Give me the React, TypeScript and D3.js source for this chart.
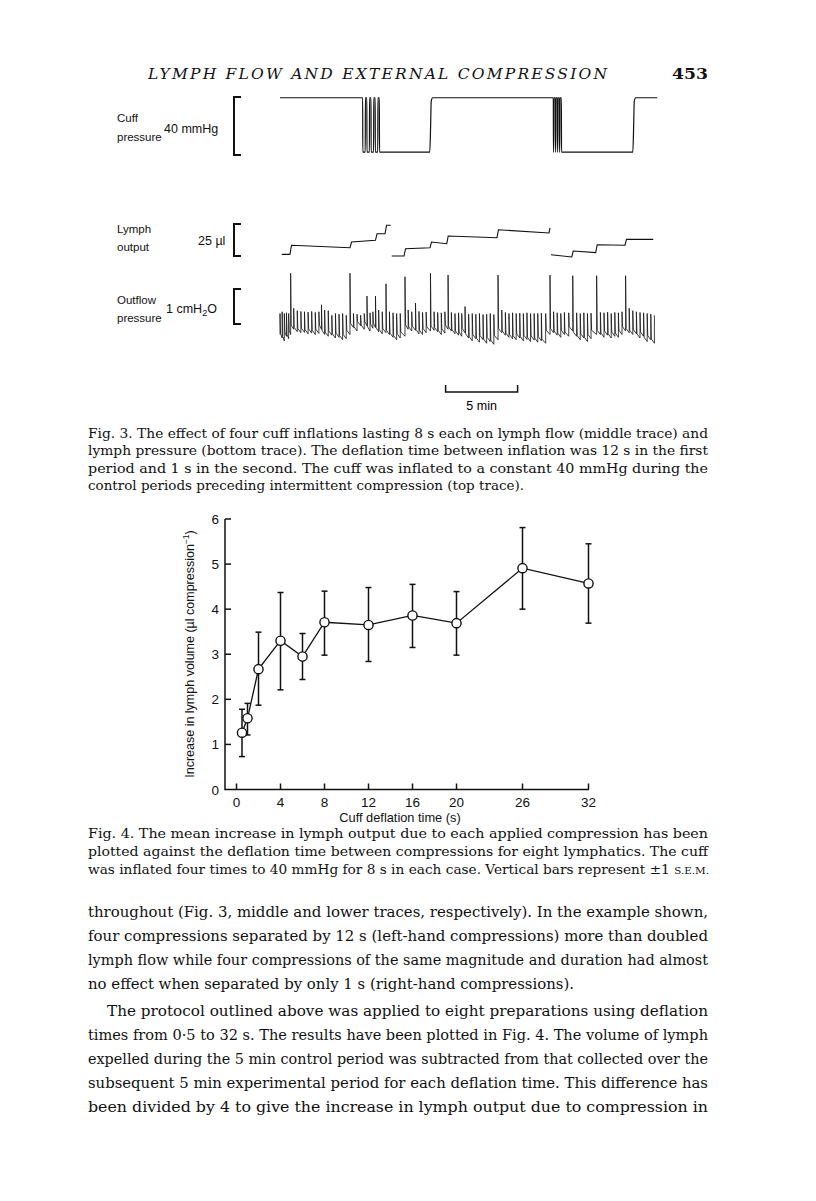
import React from 'react';
import * as d3 from 'd3';

// ---------- Fig. 4 data ----------
const deflationTime = [0.5, 1, 2, 4, 6, 8, 12, 16, 20, 26, 32];
const meanIncrease = [1.26, 1.58, 2.67, 3.3, 2.95, 3.71, 3.65, 3.86, 3.69, 4.91, 4.57];
const semUpper = [1.78, 1.91, 3.49, 4.37, 3.46, 4.4, 4.48, 4.55, 4.39, 5.81, 5.45];
const semLower = [0.73, 1.21, 1.87, 2.21, 2.44, 2.98, 2.84, 3.15, 2.98, 4.0, 3.69];
const xTicks = [0, 4, 8, 12, 16, 20, 26, 32];
const yTicks = [0, 1, 2, 3, 4, 5, 6];

// ---------- Fig. 3 data (time in min) ----------
const cuffTime = [0, 5.74, 5.75, 5.92, 5.93, 6.03, 6.04, 6.21, 6.22, 6.32, 6.33, 6.5, 6.51, 6.61, 6.62, 6.79, 6.8, 6.9, 6.91,
  10.4, 10.46, 10.5, 10.6, 18.98, 18.99, 19.01, 19.02, 19.12, 19.13, 19.15, 19.16, 19.26, 19.27, 19.29, 19.3, 19.4, 19.41, 19.43, 19.44, 19.54, 19.55,
  24.5, 24.56, 24.6, 24.7, 26.2];
const cuffPressure = [39.5, 39.5, 2, 2, 39.5, 39.5, 2, 2, 39.5, 39.5, 2, 2, 39.5, 39.5, 2, 2, 39.5, 39.5, 2,
  2, 20, 37, 39.5, 39.5, 2, 2, 39.5, 39.5, 2, 2, 39.5, 39.5, 2, 2, 39.5, 39.5, 2, 2, 39.5, 39.5, 2,
  2, 20, 37, 39.5, 39.5];

const lymphTimeA = [0.12, 0.69, 0.8, 4.86, 4.97, 6.63, 6.74, 7.29, 7.4, 7.69];
const lymphVolA = [1.3, 1.3, 8.4, 6.5, 10.9, 12.3, 17.4, 17.4, 24.0, 24.0];
const lymphTimeB = [7.76, 8.61, 8.72, 10.42, 10.52, 11.58, 11.68, 15.07, 15.17, 18.68, 18.75];
const lymphVolB = [0, 0, 5.7, 6.5, 10.9, 9.6, 15.6, 14.3, 20.5, 18.0, 21.9];
const lymphTimeC = [18.82, 20.26, 20.36, 21.92, 22.03, 23.96, 24.06, 25.92];
const lymphVolC = [1.0, -0.8, 3.9, 2.6, 8.8, 8.4, 13.0, 13.0];

const beatTime = [0, 0.15, 0.3, 0.45, 0.6, 0.74, 0.95, 1.2, 1.45, 1.7, 1.95, 2.2, 2.45, 2.7, 2.88, 3.1, 3.35, 3.6, 3.85, 4.1,
  4.35, 4.6, 4.86, 5.1, 5.35, 5.6, 5.85, 6.04, 6.25, 6.45, 6.63, 6.85, 7.1, 7.36, 7.6, 7.85, 8.1, 8.35, 8.68, 8.9,
  9.15, 9.41, 9.65, 9.9, 10.15, 10.45, 10.7, 10.95, 11.2, 11.45, 11.67, 11.9, 12.15, 12.4, 12.62, 12.85, 13.1, 13.35, 13.6, 13.85,
  14.1, 14.35, 14.6, 14.85, 15.14, 15.4, 15.65, 15.9, 16.15, 16.4, 16.65, 16.9, 17.15, 17.4, 17.65, 17.9, 18.15, 18.45, 18.75, 19.0,
  19.25, 19.5, 19.75, 20.05, 20.33, 20.6, 20.85, 21.1, 21.35, 21.6, 21.99, 22.25, 22.5, 22.75, 23.0, 23.25, 23.5, 23.75, 24.0, 24.25,
  24.5, 24.75, 25.0, 25.25, 25.5, 25.75, 26.0];
const beatLow = [-0.3, -0.4, -0.48, -0.35, -0.42, -0.3, -0.15, -0.22, -0.25, -0.24, -0.28, -0.26, -0.3, -0.27, -0.15, -0.3, -0.35, -0.32, -0.4, -0.38,
  -0.45, -0.42, -0.3, -0.1, -0.2, -0.05, -0.15, -0.05, -0.2, -0.12, -0.1, -0.22, -0.28, -0.25, -0.3, -0.38, -0.45, -0.4, -0.35, -0.15,
  -0.2, -0.18, -0.28, -0.3, -0.25, -0.2, -0.18, -0.22, -0.3, -0.26, -0.15, -0.2, -0.28, -0.32, -0.35, -0.25, -0.4, -0.48, -0.42, -0.52,
  -0.45, -0.55, -0.5, -0.58, -0.45, -0.25, -0.32, -0.38, -0.42, -0.45, -0.4, -0.48, -0.44, -0.5, -0.46, -0.52, -0.48, -0.55, -0.3, -0.25,
  -0.32, -0.38, -0.3, -0.35, -0.2, -0.35, -0.45, -0.4, -0.5, -0.42, -0.3, -0.3, -0.38, -0.32, -0.4, -0.35, -0.38, -0.3, -0.2, -0.25,
  -0.3, -0.28, -0.4, -0.35, -0.5, -0.45, -0.55];
const beatPeak = [0.3, 0.35, 0.3, 0.32, 0.3, 1.45, 0.45, 0.38, 0.36, 0.35, 0.34, 0.36, 0.33, 0.35, 0.55, 0.4, 0.38, 0.25, 0.3, 0.28,
  0.3, 0.25, 1.45, 0.3, 0.28, 0.25, 0.3, 0.8, 0.32, 0.35, 0.8, 0.4, 0.35, 1.15, 0.35, 0.32, 0.3, 0.3, 1.35, 0.4,
  0.35, 0.6, 0.36, 0.33, 0.34, 1.45, 0.35, 0.33, 0.32, 0.35, 1.4, 0.33, 0.3, 0.32, 0.3, 0.5, 0.28, 0.3, 0.28, 0.3,
  0.27, 0.28, 0.3, 0.27, 1.4, 0.4, 0.33, 0.3, 0.32, 0.3, 0.31, 0.3, 0.32, 0.3, 0.3, 0.3, 0.31, 0.3, 1.4, 0.35,
  0.32, 0.3, 0.33, 0.32, 1.38, 0.32, 0.3, 0.32, 0.3, 0.31, 1.38, 0.33, 0.32, 0.34, 0.3, 0.33, 0.32, 0.35, 1.38, 0.45,
  0.38, 0.35, 0.33, 0.32, 0.3, 0.28, 0.25];

const scaleBarStart = 11.5;
const scaleBarMinutes = 5;

// ---------- text ----------
const fig3Caption = [
  'Fig. 3. The effect of four cuff inflations lasting 8 s each on lymph flow (middle trace) and',
  'lymph pressure (bottom trace). The deflation time between inflation was 12 s in the first',
  'period and 1 s in the second. The cuff was inflated to a constant 40 mmHg during the',
  'control periods preceding intermittent compression (top trace).',
];
const fig3CaptionWidth = [620, 620, 620, 436];
const fig4Caption = [
  'Fig. 4. The mean increase in lymph output due to each applied compression has been',
  'plotted against the deflation time between compressions for eight lymphatics. The cuff',
];
const bodyLines = [
  'throughout (Fig. 3, middle and lower traces, respectively). In the example shown,',
  'four compressions separated by 12 s (left-hand compressions) more than doubled',
  'lymph flow while four compressions of the same magnitude and duration had almost',
  'no effect when separated by only 1 s (right-hand compressions).',
  'The protocol outlined above was applied to eight preparations using deflation',
  'times from 0·5 to 32 s. The results have been plotted in Fig. 4. The volume of lymph',
  'expelled during the 5 min control period was subtracted from that collected over the',
  'subsequent 5 min experimental period for each deflation time. This difference has',
  'been divided by 4 to give the increase in lymph output due to compression in',
];

const sans = "'Liberation Sans', Arial, Helvetica, sans-serif";
const serif = "'DejaVu Serif', 'Liberation Serif', serif";

export default function App() {
  // Fig 3 scales
  const t = d3.scaleLinear().domain([0, 26]).range([280, 654.4]);
  const yCuff = d3.scaleLinear().domain([0, 40]).range([155, 97]);
  const yLymph = d3.scaleLinear().domain([0, 25]).range([256, 224]);
  const yPress = d3.scaleLinear().domain([0, 1]).range([324, 289]);

  const cuffLine = d3.line<number>().x((_, i) => t(cuffTime[i])).y((_, i) => yCuff(cuffPressure[i])).curve(d3.curveMonotoneX);
  const lymphPath = (ts: number[], vs: number[]) =>
    d3.line<number>().x((_, i) => t(ts[i])).y((_, i) => yLymph(vs[i]))(ts) || '';

  const pPts: [number, number][] = [];
  beatTime.forEach((bt, i) => {
    pPts.push([bt, beatLow[i]]);
    pPts.push([bt, beatPeak[i]]);
    if (i < beatTime.length - 1) pPts.push([bt + 0.04, beatLow[i + 1] + 0.12]);
  });
  const pressLine = d3.line<[number, number]>().x((d) => t(d[0])).y((d) => yPress(d[1]));

  // Fig 4 scales
  const x4 = d3.scaleLinear().domain([0, 32]).range([236.5, 588.5]);
  const y4 = d3.scaleLinear().domain([0, 6]).range([789.5, 519]);
  const meanLine = d3.line<number>().x((d) => x4(d)).y((_, i) => y4(meanIncrease[i]));

  const bracket = (top: number, bottom: number) => `M241,${top}H234V${bottom}H241`;

  return (
    <svg width={816} height={1201} style={{ position: 'absolute', left: 0, top: 0, background: '#fff' }}>
      <rect x={0} y={0} width={816} height={1201} fill="#fff" />
      {/* running head */}
      <text x={148} y={79} fontFamily={serif} style={{ fontStyle: 'italic' }} fontSize={15.5} textLength={459} lengthAdjust="spacing" fill="#111">
        LYMPH FLOW AND EXTERNAL COMPRESSION
      </text>
      <text x={672} y={79} fontFamily={serif} fontWeight="bold" fontSize={15} textLength={36} lengthAdjust="spacingAndGlyphs" fill="#111">
        453
      </text>

      {/* Fig 3 labels */}
      <g fontFamily={sans} fontSize={11.5} fill="#111">
        <text x={117} y={122}>Cuff</text>
        <text x={117} y={141}>pressure</text>
        <text x={117} y={233}>Lymph</text>
        <text x={117} y={251}>output</text>
        <text x={117} y={304}>Outflow</text>
        <text x={117} y={322}>pressure</text>
      </g>
      <g fontFamily={sans} fontSize={12.5} fill="#111">
        <text x={164} y={133}>40 mmHg</text>
        <text x={198} y={245}>25 µl</text>
        <text x={166} y={313}>1 cmH<tspan fontSize={9} dy={3}>2</tspan><tspan dy={-3}>O</tspan></text>
      </g>
      <g fill="none" stroke="#111" strokeWidth={2}>
        <path d={bracket(yCuff(40), yCuff(0))} />
        <path d={bracket(yLymph(25), yLymph(0))} />
        <path d={bracket(yPress(1), yPress(0))} />
      </g>

      {/* Fig 3 traces */}
      <path d={cuffLine(cuffTime) || ''} fill="none" stroke="#111" strokeWidth={1.2} />
      <g fill="none" stroke="#111" strokeWidth={1.1}>
        <path d={lymphPath(lymphTimeA, lymphVolA)} />
        <path d={lymphPath(lymphTimeB, lymphVolB)} />
        <path d={lymphPath(lymphTimeC, lymphVolC)} />
      </g>
      <path d={pressLine(pPts) || ''} fill="none" stroke="#111" strokeWidth={0.8} />

      {/* scale bar */}
      <path
        d={`M${t(scaleBarStart)},385V392H${t(scaleBarStart + scaleBarMinutes)}V385`}
        fill="none"
        stroke="#111"
        strokeWidth={1.5}
      />
      <text x={(t(scaleBarStart) + t(scaleBarStart + scaleBarMinutes)) / 2} y={410} textAnchor="middle" fontFamily={sans} fontSize={12.5}>
        5 min
      </text>

      {/* Fig 3 caption */}
      <g fontFamily={serif} fontSize={13.2} fill="#111">
        {fig3Caption.map((s, i) => (
          <text key={i} x={88} y={438 + i * 17.3} textLength={fig3CaptionWidth[i]} lengthAdjust="spacingAndGlyphs">
            {s}
          </text>
        ))}
      </g>

      {/* Fig 4 axes */}
      <g stroke="#111" strokeWidth={1.5} fill="none">
        <path d={`M${225},${y4(6)}V${y4(0)}H${x4(32) + 0.5}`} />
        {yTicks.filter((v) => v > 0).map((v) => (
          <line key={v} x1={225} x2={231} y1={y4(v)} y2={y4(v)} />
        ))}
        {xTicks.map((v) => (
          <line key={v} x1={x4(v)} x2={x4(v)} y1={y4(0)} y2={y4(0) - 6} />
        ))}
      </g>
      <g fontFamily={sans} fontSize={13.5} fill="#111">
        {yTicks.map((v) => (
          <text key={v} x={219} y={y4(v) + 5} textAnchor="end">{v}</text>
        ))}
        {xTicks.map((v) => (
          <text key={v} x={x4(v)} y={807} textAnchor="middle">{v}</text>
        ))}
        <text x={400} y={822} textAnchor="middle" fontSize={12.8}>Cuff deflation time (s)</text>
        <text transform="translate(194,654) rotate(-90)" textAnchor="middle" fontSize={12.5}>
          Increase in lymph volume (µl compression<tspan fontSize={8.5} dy={-5}>−1</tspan><tspan dy={5}>)</tspan>
        </text>
      </g>
      {/* error bars */}
      <g stroke="#111" strokeWidth={1.5}>
        {deflationTime.map((d, i) => (
          <g key={i}>
            <line x1={x4(d)} x2={x4(d)} y1={y4(semLower[i])} y2={y4(semUpper[i])} />
            <line x1={x4(d) - 3} x2={x4(d) + 3} y1={y4(semLower[i])} y2={y4(semLower[i])} />
            <line x1={x4(d) - 3} x2={x4(d) + 3} y1={y4(semUpper[i])} y2={y4(semUpper[i])} />
          </g>
        ))}
      </g>
      <path d={meanLine(deflationTime) || ''} fill="none" stroke="#111" strokeWidth={1.3} />
      {deflationTime.map((d, i) => (
        <circle key={i} cx={x4(d)} cy={y4(meanIncrease[i])} r={4.6} fill="#fff" stroke="#111" strokeWidth={1.4} />
      ))}

      {/* Fig 4 caption */}
      <g fontFamily={serif} fontSize={13.2} fill="#111">
        {fig4Caption.map((s, i) => (
          <text key={i} x={88} y={838 + i * 17.8} textLength={620} lengthAdjust="spacingAndGlyphs">{s}</text>
        ))}
        <text x={88} y={838 + 2 * 17.8} textLength={621} lengthAdjust="spacingAndGlyphs">
          was inflated four times to 40 mmHg for 8 s in each case. Vertical bars represent ±1 <tspan fontSize={10}>S.E.M.</tspan>
        </text>
      </g>

      {/* body text */}
      <g fontFamily={serif} fontSize={14.8} fill="#111">
        {bodyLines.map((s, i) => {
          const para2 = i >= 4;
          const y = 917 + i * 24 + (para2 ? 3 : 0);
          const x = i === 4 ? 107 : 88;
          const w = i === 3 ? 486 : 708 - x;
          return (
            <text key={i} x={x} y={y} textLength={w} lengthAdjust="spacingAndGlyphs">{s}</text>
          );
        })}
      </g>
    </svg>
  );
}
